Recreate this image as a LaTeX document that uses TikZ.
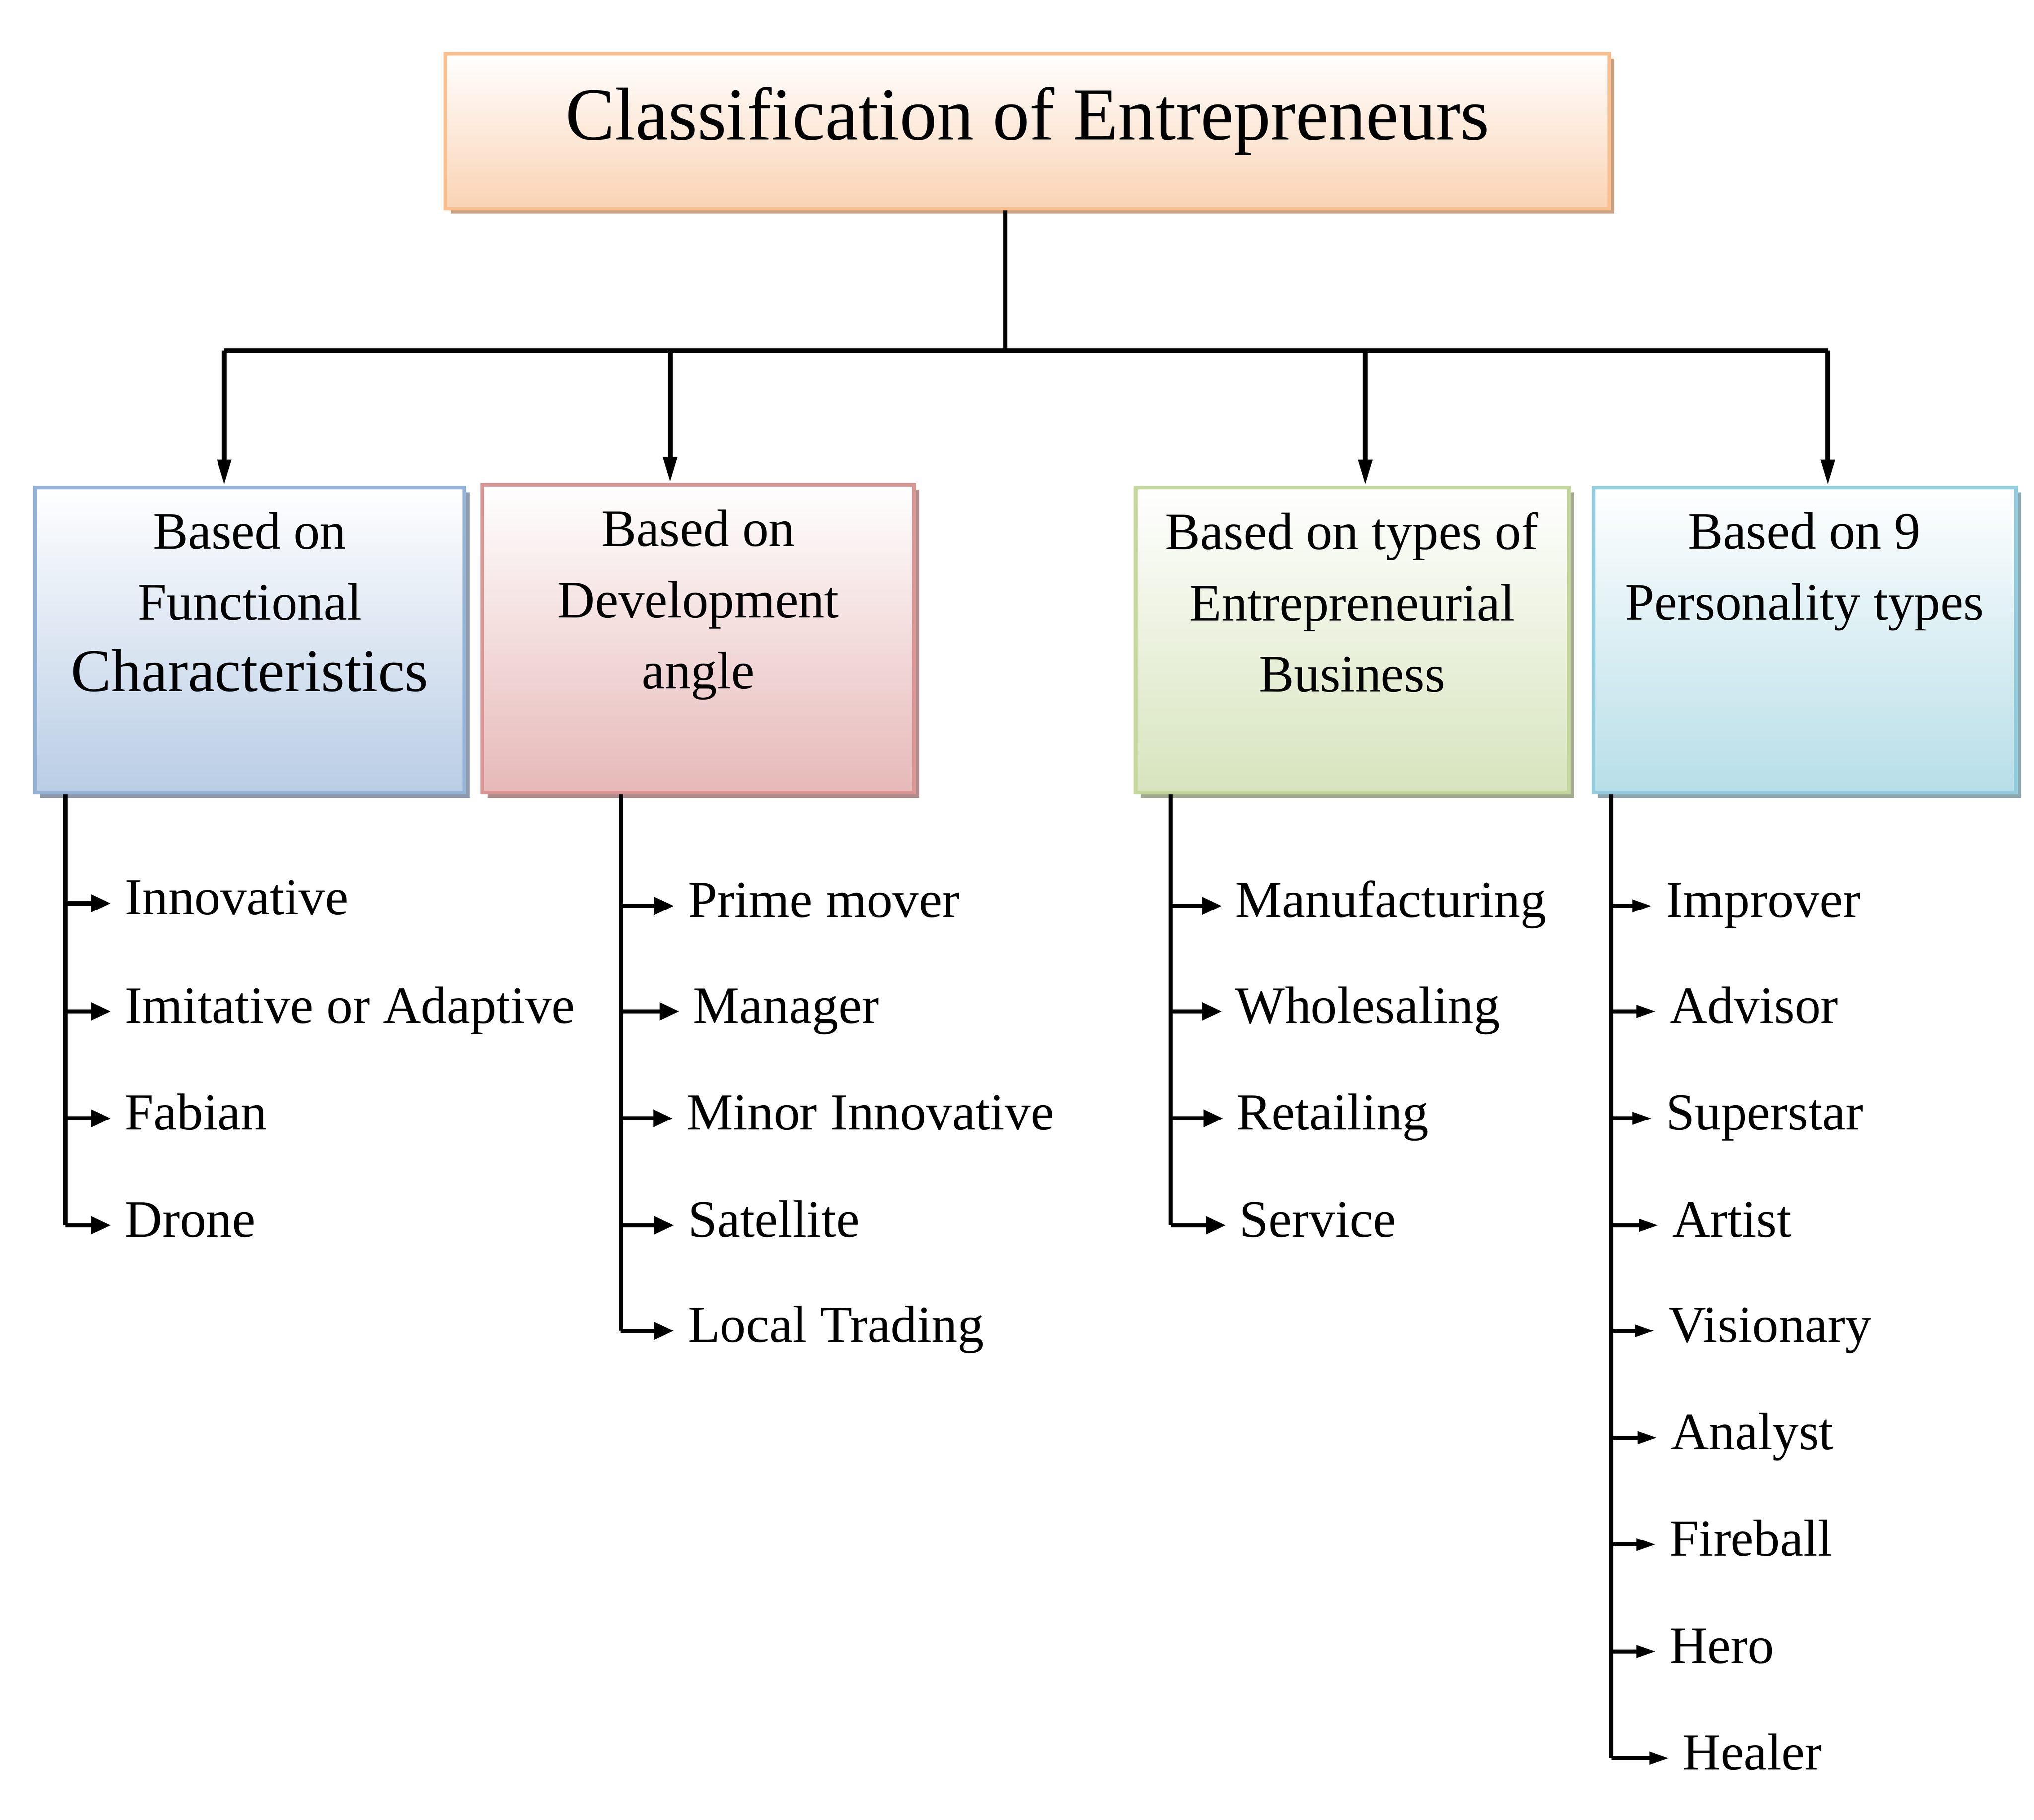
\documentclass[tikz,border=0pt]{standalone}
\usepackage{fontspec}
\setmainfont{Liberation Serif}
\usetikzlibrary{arrows.meta,shadows}

\definecolor{titleline}{HTML}{F9BF8F}
\definecolor{titlefill}{HTML}{FAD3B4}
\definecolor{titleshade}{HTML}{C9A080}
\definecolor{blueline}{HTML}{95B3D7}
\definecolor{bluefill}{HTML}{B9CDE5}
\definecolor{blueshade}{HTML}{8E9AAC}
\definecolor{redline}{HTML}{D99694}
\definecolor{redfill}{HTML}{E6B9B8}
\definecolor{redshade}{HTML}{B08E8D}
\definecolor{greenline}{HTML}{C3D69B}
\definecolor{greenfill}{HTML}{D7E4BD}
\definecolor{greenshade}{HTML}{A3AC90}
\definecolor{cyanline}{HTML}{93CDDD}
\definecolor{cyanfill}{HTML}{B7DEE8}
\definecolor{cyanshade}{HTML}{8EA8B0}

\tikzset{
  catbox/.style n args={3}{draw=#1, line width=0.8pt, top color=white, bottom color=#2,
    drop shadow={shadow xshift=0.04cm, shadow yshift=-0.04cm, fill=#3, opacity=1}},
  boxtext/.style={anchor=north, inner sep=0pt, align=center},
  item/.style={anchor=west, inner xsep=0.1cm, inner ysep=0pt, text height=0.7em, text depth=0.2em},
  line/.style={line width=0.9pt},
  tip/.style={line width=0.9pt, -{Triangle[length=0.15cm, width=0.13cm]}},
  slimtip/.style={line width=0.9pt, -{Triangle[length=0.15cm, width=0.09cm]}},
  bustip/.style={line width=1.1pt, -{Triangle[length=0.2cm, width=0.1cm]}}
}

\begin{document}
\begin{tikzpicture}[x=0.01cm, y=-0.01cm,
    every node/.style={font=\fontsize{11.4}{15.5}\selectfont}]
    \useasboundingbox (0,0) rectangle (1560,1396);

    % title
    \node[catbox={titleline}{titlefill}{titleshade}, minimum width=8.92cm, minimum height=1.19cm] (title) at (788,100.5) {};
    \node[font=\fontsize{16.2}{19}\selectfont] (titletext) at (788,93) {Classification of Entrepreneurs};

    % categories
    \node[catbox={blueline}{bluefill}{blueshade}, minimum width=3.29cm, minimum height=2.34cm] (b1) at (191.5,491) {};
    \node[catbox={redline}{redfill}{redshade}, minimum width=3.31cm, minimum height=2.36cm] (b2) at (535.5,490) {};
    \node[catbox={greenline}{greenfill}{greenshade}, minimum width=3.32cm, minimum height=2.34cm] (b3) at (1037,491) {};
    \node[catbox={cyanline}{cyanfill}{cyanshade}, minimum width=3.24cm, minimum height=2.34cm] (b4) at (1384,491) {};

    \node[boxtext] (b1text) at ([yshift=-0.2cm]b1.north) {Based on\\Functional\\{\fontsize{13.1}{15.5}\selectfont Characteristics}};
    \node[boxtext] (b2text) at ([yshift=-0.2cm]b2.north) {Based on\\Development\\angle};
    \node[boxtext] (b3text) at ([yshift=-0.2cm]b3.north) {Based on types of\\Entrepreneurial\\Business};
    \node[boxtext] (b4text) at ([yshift=-0.2cm]b4.north) {Based on 9\\Personality types};

    % title to categories
    \coordinate (bus) at (771,269);
    \coordinate (j1) at (172,269);
    \coordinate (j2) at (514,269);
    \coordinate (j3) at (1047,269);
    \coordinate (j4) at (1402,269);
    \draw[line] (title.south -| bus) -- (bus);
    \draw[line width=1.1pt] (j1) -- (j4);
    \foreach \j/\b in {j1/b1, j2/b2, j3/b3, j4/b4}
        \draw[bustip] (\j) -- (\j |- \b.north);

    % functional characteristics
    \coordinate (t1) at (50,608);
    \foreach \n/\x/\y/\txt in {1/95/693/Innovative, 2/95/776/Imitative or Adaptive, 3/95/858/Fabian, 4/95/940/Drone}{
        \node[item] (a\n) at (\x-10,\y) {\txt};
        \draw[tip] (a\n.west -| t1) -- (a\n.west);
    }
    \draw[line] (t1 |- b1.south) -- (t1 |- a4.west);

    % development angle
    \coordinate (t2) at (476,608);
    \foreach \n/\x/\y/\txt in {1/527/695/Prime mover, 2/531/776/Manager, 3/526/858/Minor Innovative, 4/527/940/Satellite, 5/527/1021/Local Trading}{
        \node[item] (d\n) at (\x-10,\y) {\txt};
        \draw[tip] (d\n.west -| t2) -- (d\n.west);
    }
    \draw[line] (t2 |- b2.south) -- (t2 |- d5.west);

    % types of business
    \coordinate (t3) at (898,608);
    \foreach \n/\x/\y/\txt in {1/947/695/Manufacturing, 2/947/776/Wholesaling, 3/948/858/Retailing, 4/950/940/Service}{
        \node[item] (e\n) at (\x-10,\y) {\txt};
        \draw[tip] (e\n.west -| t3) -- (e\n.west);
    }
    \draw[line] (t3 |- b3.south) -- (t3 |- e4.west);

    % personality types
    \coordinate (t4) at (1236,608);
    \foreach \n/\x/\y/\txt in {1/1277/695/Improver, 2/1280/776/Advisor, 3/1277/858/Superstar, 4/1282/940/Artist, 5/1279/1021/Visionary, 6/1281/1103/Analyst, 7/1280/1185/Fireball, 8/1280/1267/Hero, 9/1290/1349/Healer}{
        \node[item] (p\n) at (\x-10,\y) {\txt};
        \draw[slimtip] (p\n.west -| t4) -- (p\n.west);
    }
    \draw[line] (t4 |- b4.south) -- (t4 |- p9.west);
\end{tikzpicture}
\end{document}
